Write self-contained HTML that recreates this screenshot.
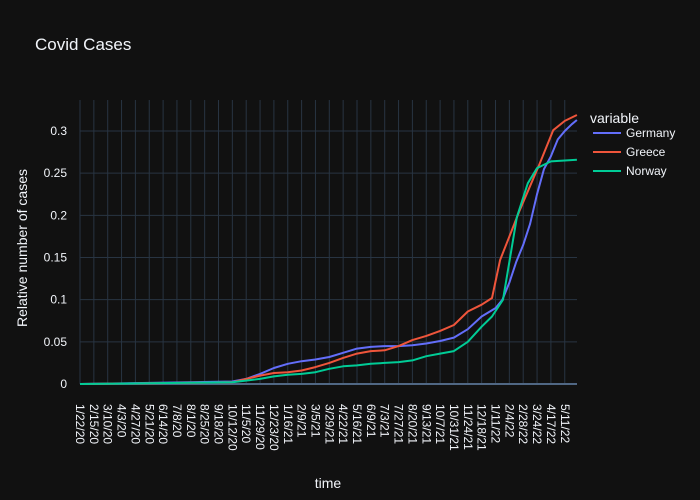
<!DOCTYPE html>
<html><head><meta charset="utf-8"><style>
body{margin:0;background:#111111;}
svg{display:block;font-family:"Liberation Sans",Arial,sans-serif;}
</style></head><body>
<svg id="chart" width="700" height="500">
<rect width="700" height="500" fill="#111111"/>
<text x="35" y="50" fill="#f2f5fa" font-size="17">Covid Cases</text>
<g id="grid"></g><g id="series"></g><g id="axes"></g>
<text transform="translate(27,248) rotate(-90)" text-anchor="middle" fill="#f2f5fa" font-size="14">Relative number of cases</text>
<text x="328" y="488" text-anchor="middle" fill="#f2f5fa" font-size="14">time</text>
<g id="legend">
<text x="590" y="123" fill="#f2f5fa" font-size="14">variable</text>
</g>
</svg>
<script>
const seriesNames=["Germany","Greece","Norway"];
const colors=["#636efa","#EF553B","#00cc96"];
const germanyDates=["1/22/20","10/12/20","11/5/20","11/29/20","12/23/20","1/16/21","2/9/21","3/5/21","3/29/21","4/22/21","5/16/21","6/9/21","7/3/21","7/27/21","8/20/21","9/13/21","10/7/21","10/31/21","11/24/21","12/18/21","1/11/22","1/23/22","2/4/22","2/16/22","2/28/22","3/12/22","3/24/22","4/5/22","4/17/22","4/29/22","5/11/22","5/23/22","6/1/22"];
const germanyValues=[0,0.003,0.006,0.012,0.019,0.024,0.027,0.029,0.032,0.037,0.042,0.044,0.045,0.045,0.046,0.048,0.051,0.055,0.065,0.08,0.09,0.1,0.12,0.145,0.165,0.19,0.225,0.255,0.27,0.29,0.3,0.308,0.313];
const greeceDates=["1/22/20","10/12/20","11/29/20","12/23/20","1/16/21","2/9/21","3/5/21","3/29/21","4/22/21","5/16/21","6/9/21","7/3/21","7/27/21","8/20/21","9/13/21","10/7/21","10/31/21","11/24/21","12/18/21","1/5/22","1/19/22","2/22/22","3/29/22","4/21/22","5/11/22","6/1/22"];
const greeceValues=[0,0.002,0.01,0.013,0.014,0.016,0.02,0.025,0.031,0.036,0.039,0.04,0.045,0.052,0.057,0.063,0.07,0.086,0.094,0.102,0.147,0.206,0.262,0.301,0.312,0.319];
const norwayDates=["1/22/20","10/12/20","11/29/20","12/23/20","1/16/21","2/9/21","3/5/21","3/29/21","4/22/21","5/16/21","6/9/21","7/3/21","7/27/21","8/20/21","9/13/21","10/7/21","10/31/21","11/24/21","12/18/21","1/5/22","1/24/22","2/17/22","3/8/22","3/24/22","4/17/22","6/1/22"];
const norwayValues=[0,0.002,0.006,0.009,0.011,0.012,0.014,0.018,0.021,0.022,0.024,0.025,0.026,0.028,0.033,0.036,0.039,0.05,0.068,0.08,0.1,0.198,0.238,0.256,0.264,0.266];
const xTickLabels=["1/22/20","2/15/20","3/10/20","4/3/20","4/27/20","5/21/20","6/14/20","7/8/20","8/1/20","8/25/20","9/18/20","10/12/20","11/5/20","11/29/20","12/23/20","1/16/21","2/9/21","3/5/21","3/29/21","4/22/21","5/16/21","6/9/21","7/3/21","7/27/21","8/20/21","9/13/21","10/7/21","10/31/21","11/24/21","12/18/21","1/11/22","2/4/22","2/28/22","3/24/22","4/17/22","5/11/22"];
const yTickValues=[0,0.05,0.1,0.15,0.2,0.25,0.3];
const yTickLabels=["0","0.05","0.1","0.15","0.2","0.25","0.3"];

const NS="http://www.w3.org/2000/svg";
function parse(s){const p=s.split("/");return Date.UTC(2000+ +p[2],+p[0]-1,+p[1]);}
const t0=parse("1/22/20"),DAY=86400000;
const L=80,R=577,T=100,B=384;
function xs(s){return L+(parse(s)-t0)/DAY/24*13.85;}
function ys(v){return B-v*843.3;}
function mk(tag,attrs,parent){const e=document.createElementNS(NS,tag);for(const k in attrs)e.setAttribute(k,attrs[k]);parent.appendChild(e);return e;}
const grid=document.getElementById("grid"),axes=document.getElementById("axes"),ser=document.getElementById("series");
xTickLabels.forEach(lbl=>{
  const x=xs(lbl);
  const g=mk("line",{x1:x,x2:x,y1:T,y2:B,stroke:"#283442","stroke-width":1},grid);
  
  
  const t=mk("text",{transform:`translate(${x-4},${B+20}) rotate(90)`,fill:"#f2f5fa","font-size":12},axes);
  t.textContent=lbl;
  
  
});
yTickValues.forEach((v,i)=>{
  const y=ys(v);
  const g=mk("line",{x1:L,x2:R,y1:y,y2:y,stroke:v===0?"#506784":"#283442","stroke-width":v===0?2:1},grid);
  
  
  const t=mk("text",{x:L-13,y:y+4,"text-anchor":"end",fill:"#f2f5fa","font-size":12},axes);
  t.textContent=yTickLabels[i];
  
  
});
const dsets=[[germanyDates,germanyValues],[greeceDates,greeceValues],[norwayDates,norwayValues]];
dsets.forEach((d,i)=>{
  const pts=d[0].map((s,j)=>xs(s).toFixed(1)+","+ys(d[1][j]).toFixed(1)).join(" ");
  const p=mk("polyline",{points:pts,fill:"none",stroke:colors[i],"stroke-width":2,"stroke-linejoin":"round"},ser);
  
  
  const lg=document.getElementById("legend");
  const y=133+i*19;
  const ll=mk("line",{x1:593,x2:621,y1:y,y2:y,stroke:colors[i],"stroke-width":2},lg);
  
  
  const lt=mk("text",{x:626,y:y+4,fill:"#f2f5fa","font-size":12},lg);
  lt.textContent=seriesNames[i];
  
  
});
</script>
</body></html>
